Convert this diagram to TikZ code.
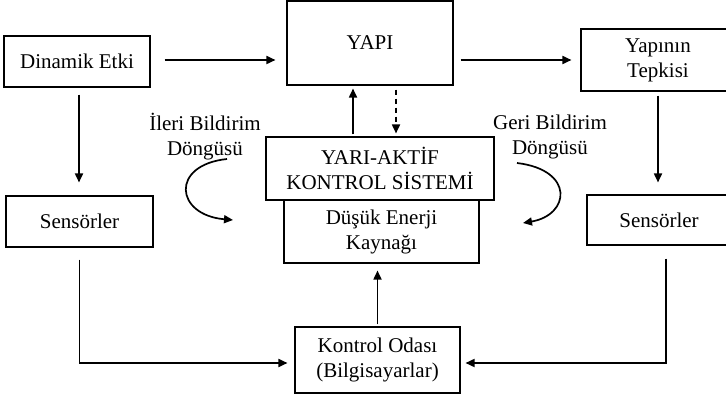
\documentclass[tikz,border=0pt]{standalone}
\usepackage{fontspec}
\setmainfont{Liberation Serif}
\usetikzlibrary{arrows.meta}

\begin{document}
\begin{tikzpicture}[
		x=1pt, y=-1pt,
		every node/.style={font=\fontsize{21}{25}\selectfont, align=center},
		box/.style={draw, rectangle, line width=1.1pt, inner sep=0pt},
		arr/.style={-{Triangle[length=9pt,width=8pt]}, line width=1.7pt}
	]
  \clip (0,0) rectangle (726,398);
  \node (dyn) [box, minimum width=146pt, minimum height=51pt] at (77, 61.5) {Dinamik Etki};
  \node (yapi) [box, minimum width=166pt, minimum height=84pt] at (370, 43) {YAPI};
  \node (tepki) [box, minimum width=154pt, minimum height=62pt] at (658, 60) {Yapının\\Tepkisi};
  \node (sensL) [box, minimum width=147pt, minimum height=51pt] at (79.5, 221.5) {Sensörler};
  \node (sensR) [box, minimum width=144pt, minimum height=50pt] at (659, 220) {Sensörler};
  \node (yari) [box, minimum width=228pt, minimum height=63pt] at (380, 168.5) {YARI-AKTİF\\KONTROL SİSTEMİ};
  \node (dusuk) [box, minimum width=195pt, minimum height=63pt] at (381.5, 231.5) {Düşük Enerji\\Kaynağı};
  \node (kontrol) [box, minimum width=165pt, minimum height=66pt] at (377.5, 360) {Kontrol Odası\\(Bilgisayarlar)};
  \node (ileri) at (205, 137) {İleri Bildirim\\Döngüsü};
  \node (geri) at (550, 137) {Geri Bildirim\\Döngüsü};
  \coordinate (ileri_a) at (227, 159);
  \coordinate (ileri_b) at (233, 220);
  \coordinate (geri_a) at (517, 163);
  \coordinate (geri_b) at (523, 223);
  % upper row
  \draw [arr, shorten <=14pt, shorten >=11pt] ([yshift=1.5pt]dyn.east) -- ([yshift=1.5pt]dyn.east -| yapi.west);
  \draw [arr, shorten <=7pt, shorten >=9pt] (yapi.east |- tepki.west) -- (tepki.west);
  \draw [arr, shorten <=7pt, shorten >=13pt] ([xshift=2pt]dyn.south) -- ([xshift=2pt]dyn.south |- sensL.north);
  \draw [arr, shorten <=4pt, shorten >=12pt] (tepki.south) -- (tepki.south |- sensR.north);
  % control system
  \draw [arr, shorten <=2pt, shorten >=3pt] ([xshift=-27pt]yari.north) -- ([xshift=-27pt]yari.north |- yapi.south);
  \draw [arr, dash pattern=on 5pt off 4pt, shorten <=4pt, shorten >=3pt] ([xshift=16pt]yari.north |- yapi.south) -- ([xshift=16pt]yari.north);
  \draw [arr, shorten <=2pt, shorten >=7pt] (kontrol.north) -- (kontrol.north |- dusuk.south);
  % loops
  \draw [arr] (ileri_a) .. controls (170, 165) and (175, 215) .. (ileri_b);
  \draw [arr] (geri_a) .. controls (575, 170) and (570, 215) .. (geri_b);
  % sensors to control room
  \draw [arr, shorten <=12pt, shorten >=7pt] (sensL.south) |- ([yshift=-3pt]kontrol.west);
  \draw [arr, shorten <=13pt, shorten >=5pt] ([xshift=7pt]sensR.south) |- ([yshift=-3pt]kontrol.east);
\end{tikzpicture}
\end{document}
